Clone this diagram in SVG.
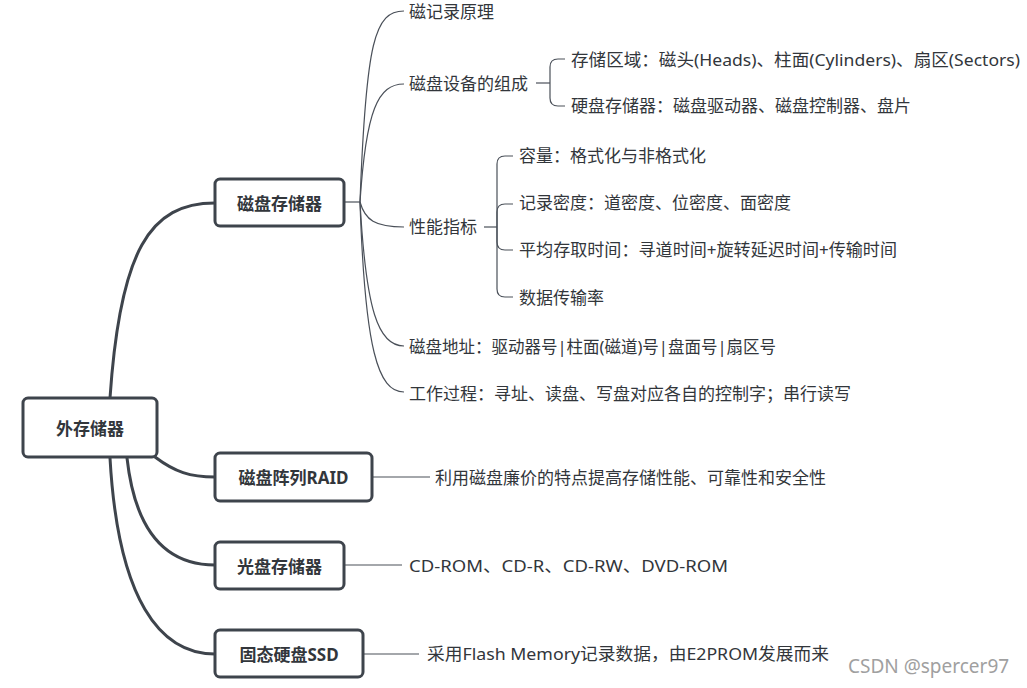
<svg xmlns="http://www.w3.org/2000/svg" width="1027" height="688" viewBox="0 0 1027 688">
<style>
.box{fill:#fff;stroke:#3e444c;stroke-width:3}
.bt{font-family:"Noto Sans","Noto Sans CJK SC",sans-serif;font-size:17px;font-weight:bold;fill:#32363b;text-anchor:middle;dominant-baseline:central}
.t{font-family:"Noto Sans","Noto Sans CJK SC",sans-serif;font-size:17px;fill:#32363b;dominant-baseline:central}
.main{fill:none;stroke:#3e444c;stroke-width:3;stroke-linecap:round}
.thin{fill:none;stroke:#4a5059;stroke-width:1.2}
.wm{font-family:"Noto Sans",sans-serif;font-size:19px;fill:#a0a0a0;dominant-baseline:central}
</style>
<rect width="1027" height="688" fill="#fff"/>
<g id="connectors">
<path class="main" d="M110,398 C120,250 150,203 215,203"/>
<path class="main" d="M155,457 C175,472 190,477 215,477"/>
<path class="main" d="M127,458 C135,530 165,565 215,565"/>
<path class="main" d="M110,458 C118,600 160,654 215,654"/>
<path class="thin" d="M344,202 L360,202"/>
<path class="thin" d="M360,202 C366,40 375,11 404,11"/>
<path class="thin" d="M360,202 C366,110 378,84 404,84"/>
<path class="thin" d="M360,202 C365,220 375,227 404,227"/>
<path class="thin" d="M360,202 C366,310 378,346 404,346"/>
<path class="thin" d="M360,202 C365,350 378,392 404,392"/>
<path class="thin" d="M536,83 L550,83"/>
<path class="thin" d="M550,83 L550,67 Q550,59 558,59 L565,59"/>
<path class="thin" d="M550,83 L550,98 Q550,106 558,106 L565,106"/>
<path class="thin" d="M484,227 L497,227"/>
<path class="thin" d="M497,227 L497,164 Q497,156 505,156 L513,156"/>
<path class="thin" d="M497,227 L497,212 Q497,204 505,204 L513,204"/>
<path class="thin" d="M497,227 L497,242 Q497,250 505,250 L513,250"/>
<path class="thin" d="M497,227 L497,289 Q497,297 505,297 L513,297"/>
<path class="thin" d="M372,477 L430,477"/>
<path class="thin" d="M344,565 L402,565"/>
<path class="thin" d="M363,654 L419,654"/>
</g>
<g id="root"><rect class="box" x="23" y="398" width="134" height="59" rx="5"/><text class="bt" x="90" y="428">外存储器</text></g>
<g id="n-disk"><rect class="box" x="215" y="179" width="129" height="47" rx="5"/><text class="bt" x="279.5" y="203">磁盘存储器</text></g>
<g id="n-raid"><rect class="box" x="215" y="453" width="157" height="48" rx="5"/><text class="bt" x="293.5" y="477">磁盘阵列RAID</text></g>
<g id="n-optical"><rect class="box" x="215" y="542" width="129" height="47" rx="5"/><text class="bt" x="279.5" y="566">光盘存储器</text></g>
<g id="n-ssd"><rect class="box" x="215" y="630" width="148" height="47" rx="5"/><text class="bt" x="289" y="654">固态硬盘SSD</text></g>
<g id="l-record"><text class="t" x="409" y="11">磁记录原理</text></g>
<g id="l-device"><text class="t" x="409" y="83">磁盘设备的组成</text></g>
<g id="l-area"><text class="t" x="571" y="59" textLength="449" lengthAdjust="spacingAndGlyphs">存储区域：磁头(Heads)、柱面(Cylinders)、扇区(Sectors)</text></g>
<g id="l-hdd"><text class="t" x="571" y="105">硬盘存储器：磁盘驱动器、磁盘控制器、盘片</text></g>
<g id="l-perf"><text class="t" x="409" y="226">性能指标</text></g>
<g id="l-cap"><text class="t" x="519" y="155">容量：格式化与非格式化</text></g>
<g id="l-density"><text class="t" x="519" y="202">记录密度：道密度、位密度、面密度</text></g>
<g id="l-access"><text class="t" x="519" y="249" textLength="378" lengthAdjust="spacingAndGlyphs">平均存取时间：寻道时间+旋转延迟时间+传输时间</text></g>
<g id="l-rate"><text class="t" x="519" y="297">数据传输率</text></g>
<g id="l-addr"><text class="t" x="409" y="346" textLength="367" lengthAdjust="spacingAndGlyphs">磁盘地址：驱动器号|柱面(磁道)号|盘面号|扇区号</text></g>
<g id="l-work"><text class="t" x="409" y="393">工作过程：寻址、读盘、写盘对应各自的控制字；串行读写</text></g>
<g id="l-raid"><text class="t" x="435" y="477">利用磁盘廉价的特点提高存储性能、可靠性和安全性</text></g>
<g id="l-optical"><text class="t" x="409" y="565" textLength="319" lengthAdjust="spacingAndGlyphs">CD-ROM、CD-R、CD-RW、DVD-ROM</text></g>
<g id="l-ssd"><text class="t" x="427" y="653" textLength="402" lengthAdjust="spacingAndGlyphs">采用Flash Memory记录数据，由E2PROM发展而来</text></g>
<text class="wm" x="848" y="666">CSDN @spercer97</text>
</svg>
